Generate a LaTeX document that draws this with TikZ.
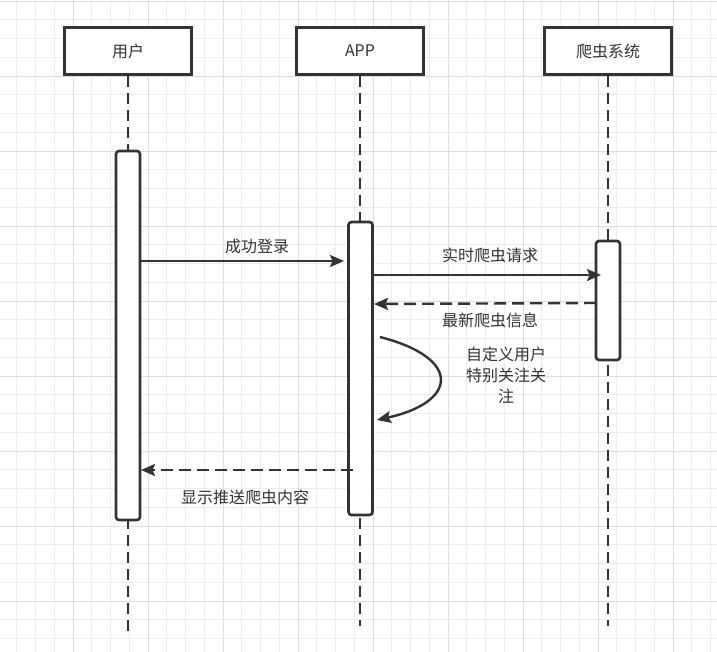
\documentclass[tikz,border=0pt]{standalone}
\usepackage{fontspec}
\newfontfamily\cjk{Noto Sans CJK SC}
\usetikzlibrary{arrows.meta}
\definecolor{ink}{HTML}{333333}
\definecolor{gridminor}{HTML}{EDEDED}
\definecolor{gridmajor}{HTML}{DDDDDD}
\tikzset{
  headbox/.style={draw=ink, line width=2.8pt, fill=white, minimum width=127pt, minimum height=47pt, inner sep=0pt, font=\cjk\fontsize{16}{18}\selectfont, text=ink},
  actbox/.style={draw=ink, line width=2.6pt, fill=white, rounded corners=3pt},
  lifeline/.style={draw=ink, line width=2.8pt, dash pattern=on 11pt off 6pt},
  msg/.style={draw=ink, line width=2.4pt, -{Stealth[length=14pt,width=12pt,inset=2.5pt]}},
  retmsg/.style={msg, dash pattern=on 12pt off 6pt},
  lbl/.style={font=\cjk\fontsize{16}{21}\selectfont, text=ink, inner sep=0pt, align=center}
}
\begin{document}
\begin{tikzpicture}[x=1pt,y=-1pt]
\useasboundingbox (0,0) rectangle (717,652);
\fill[white] (0,0) rectangle (717,652);
% grid
\foreach \i in {-4,...,35} {
  \draw[gridminor, line width=0.8pt] ({73+18.75*\i},0) -- ({73+18.75*\i},652);
  \draw[gridminor, line width=0.8pt] (0,{1+18.75*\i}) -- (717,{1+18.75*\i});
}
\foreach \i in {-1,...,9} {
  \draw[gridmajor, line width=0.9pt] ({73+75*\i},0) -- ({73+75*\i},652);
  \draw[gridmajor, line width=0.9pt] (0,{1+75*\i}) -- (717,{1+75*\i});
}
% lifelines
\node[headbox] (user) at (128,51) {用户};
\node[headbox] (app) at (360,51) {APP};
\node[headbox] (crawl) at (608,51) {爬虫系统};
\coordinate (userend) at (128,636);
\coordinate (append) at (360,626);
\coordinate (crawlend) at (608,626);
\draw[lifeline] (user.south) -- (userend);
\draw[lifeline] (app.south) -- (append);
\draw[lifeline] (crawl.south) -- (crawlend);
% activation boxes
\node[actbox, minimum width=24pt, minimum height=369pt, inner sep=0pt] (ua) at (128,335.5) {};
\node[actbox, minimum width=24pt, minimum height=293pt, inner sep=0pt] (aa) at (360.5,368.5) {};
\node[actbox, minimum width=24pt, minimum height=119pt, inner sep=0pt] (ca) at (608,300.5) {};
% messages
\coordinate (m1s) at (141,261);
\coordinate (m1e) at (344,261);
\draw[msg] (m1s) -- (m1e);
\node[lbl] (l1) at (257,246) {成功登录};
\coordinate (m2s) at (373,275);
\coordinate (m2e) at (601,275);
\draw[msg] (m2s) -- (m2e);
\node[lbl] (l2) at (490,255) {实时爬虫请求};
\coordinate (m3s) at (596,303);
\coordinate (m3e) at (374,304);
\draw[retmsg] (m3s) -- (m3e);
\node[lbl] (l3) at (490,320) {最新爬虫信息};
\coordinate (m4s) at (380,337);
\coordinate (m4e) at (377,420);
\draw[msg] (m4s) .. controls (462,358) and (458,402) .. (m4e);
\node[lbl] (l4) at (506,375) {自定义用户\\特别关注关\\注};
\coordinate (m5s) at (353,470);
\coordinate (m5e) at (141,470);
\draw[retmsg] (m5s) -- (m5e);
\node[lbl] (l5) at (245,497) {显示推送爬虫内容};
\end{tikzpicture}
\end{document}
